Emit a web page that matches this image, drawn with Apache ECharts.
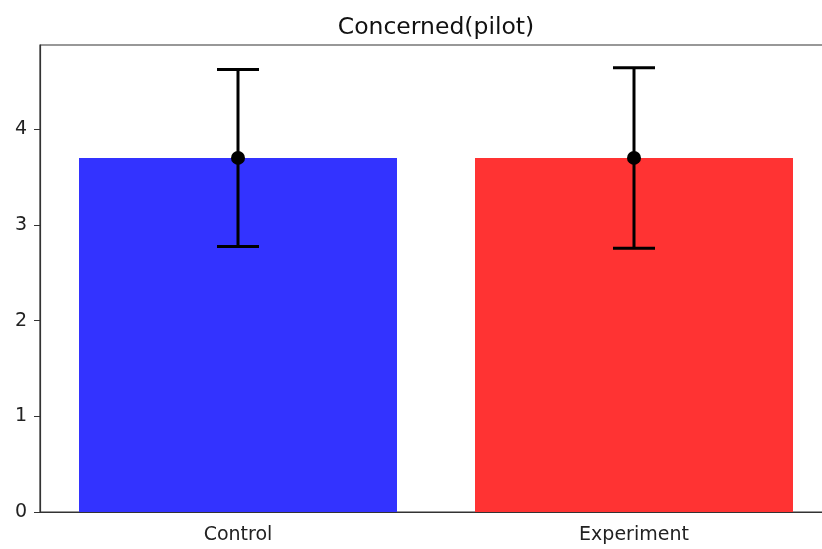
<!DOCTYPE html>
<html>
<head>
<meta charset="utf-8">
<script src="https://cdn.jsdelivr.net/npm/echarts@6/dist/echarts.min.js"></script>
<style>
  html, body { margin: 0; padding: 0; background: #fff; overflow: hidden; }
  /* the original plot runs past the right edge of the picture, so the canvas is a bit wider */
  #chart { width: 840px; height: 549px; }
</style>
</head>
<body>
<div id="chart"></div>
<script>
var groups = ['Control', 'Experiment'];
var means = [3.70, 3.70];
var errs = [0.925, 0.943];
var barColors = ['#3333ff', '#ff3333'];
var yTicks = [0, 1, 2, 3, 4];

var chart = echarts.init(document.getElementById('chart'));
var font = 'DejaVu Sans';

// error bar: vertical line, two caps, dot at the mean
function renderErr(params, api) {
    var idx = api.value(0);
    var lo = api.coord([idx, api.value(1) - api.value(2)]);
    var hi = api.coord([idx, api.value(1) + api.value(2)]);
    var mid = api.coord([idx, api.value(1)]);
    var cap = 21;
    var st = { stroke: '#000', lineWidth: 3 };
    return {
        type: 'group',
        children: [
            { type: 'line', shape: { x1: lo[0], y1: lo[1], x2: hi[0], y2: hi[1] }, style: st },
            { type: 'line', shape: { x1: lo[0] - cap, y1: lo[1], x2: lo[0] + cap, y2: lo[1] }, style: st },
            { type: 'line', shape: { x1: hi[0] - cap, y1: hi[1], x2: hi[0] + cap, y2: hi[1] }, style: st },
            { type: 'circle', shape: { cx: mid[0], cy: mid[1], r: 7 }, style: { fill: '#000' } }
        ]
    };
}

var option = {
    animation: false,
    title: {
        text: 'Concerned(pilot)',
        left: 431,
        top: 11,
        textAlign: 'center',
        textStyle: { fontFamily: font, fontSize: 23.5, fontWeight: 'normal', color: '#111' }
    },
    grid: {
        left: 40, top: 45, width: 792, height: 467,
        show: true, borderColor: '#333', borderWidth: 1.2, backgroundColor: 'transparent'
    },
    xAxis: {
        type: 'category',
        data: groups,
        axisLine: { lineStyle: { color: '#333', width: 1.2 } },
        axisTick: { alignWithLabel: true, length: 6, lineStyle: { color: '#333' } },
        axisLabel: { fontFamily: font, fontSize: 19, color: '#222', margin: 14 },
        splitLine: { show: false }
    },
    yAxis: {
        type: 'value',
        min: 0,
        max: 4.88,
        interval: 1,
        axisLine: { show: true, lineStyle: { color: '#333', width: 1.2 } },
        axisTick: { show: true, length: 6, customValues: yTicks, lineStyle: { color: '#333' } },
        axisLabel: { fontFamily: font, fontSize: 19, color: '#222', margin: 13, customValues: yTicks },
        splitLine: { show: false }
    },
    series: [
        {
            type: 'bar',
            barWidth: 318,
            data: means.map(function (v, i) {
                return { value: v, itemStyle: { color: barColors[i] } };
            })
        },
        {
            type: 'custom',
            renderItem: renderErr,
            z: 10,
            data: means.map(function (v, i) { return [i, v, errs[i]]; })
        }
    ]
};
chart.setOption(option);
</script>
</body>
</html>
